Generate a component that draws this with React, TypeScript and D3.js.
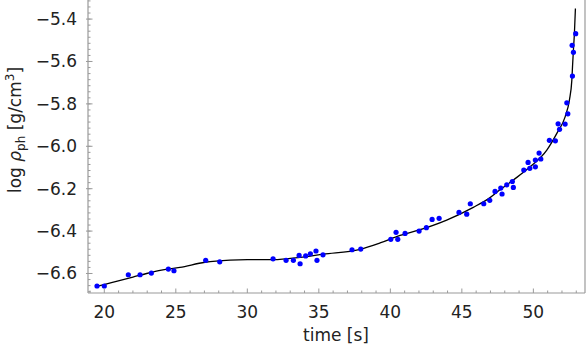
import React from "react";
import * as d3 from "d3";

// Observed points (time [s], log rho_ph)
const pointT = [19.49, 20.0, 21.68, 22.5, 23.29, 24.48, 24.87, 27.09, 28.07,
  31.8, 32.71, 33.22, 33.62, 33.69, 34.08, 34.41, 34.8, 34.87, 35.29, 37.32, 37.93,
  40.03, 40.4, 40.52, 41.03, 42.01, 42.52, 42.92, 43.41, 44.8, 45.34, 45.59, 46.53, 46.95,
  47.32, 47.72, 47.81, 48.14, 48.53, 48.6, 49.33, 49.63, 49.75, 50.14, 50.14, 50.4, 50.52,
  51.12, 51.54, 51.73, 51.83, 52.22, 52.34, 52.41, 52.73, 52.71, 52.8, 52.96];
const pointY = [-6.659, -6.659, -6.606, -6.606, -6.598, -6.579, -6.587, -6.538, -6.545,
  -6.531, -6.538, -6.538, -6.515, -6.554, -6.517, -6.507, -6.494, -6.538, -6.512, -6.488, -6.485,
  -6.439, -6.406, -6.439, -6.411, -6.4, -6.384, -6.345, -6.34, -6.312, -6.32, -6.271, -6.271, -6.255,
  -6.213, -6.197, -6.225, -6.182, -6.166, -6.194, -6.112, -6.076, -6.104, -6.065, -6.097, -6.032, -6.06,
  -5.972, -5.974, -5.894, -5.92, -5.895, -5.795, -5.847, -5.669, -5.524, -5.557, -5.469];

// Fitted curve
const curveT = [19.35, 20.5, 22.0, 22.96, 24.0, 25.29, 27.04, 28.79, 30.0, 31.82, 33.69, 35.31,
  37.88, 39.28, 40.68, 41.6, 43.94, 45.8, 46.97, 47.67, 48.6, 49.77, 50.94, 51.64, 52.22,
  52.52, 52.69, 52.74, 52.8, 52.87, 52.94];
const curveY = [-6.663, -6.643, -6.617, -6.6, -6.584, -6.571, -6.547, -6.537, -6.535, -6.535,
  -6.524, -6.509, -6.486, -6.456, -6.42, -6.403, -6.348, -6.288, -6.242, -6.205, -6.159, -6.097,
  -6.018, -5.939, -5.861, -5.782, -5.688, -5.62, -5.546, -5.467, -5.35];

const xTicks = [20, 25, 30, 35, 40, 45, 50];
const yTicks = [-6.6, -6.4, -6.2, -6.0, -5.8, -5.6, -5.4];

const W = 586, H = 349;
const left = 88, right = 585, top = 0, bottom = 293;

export default function App() {
  const x = d3.scaleLinear().domain([18.86, 53.61]).range([left, right]);
  const y = d3.scaleLinear().domain([-6.692, -5.31]).range([bottom, top]);
  const line = d3.line<number>()
    .x((_, i) => x(curveT[i]))
    .y((_, i) => y(curveY[i]))
    .curve(d3.curveMonotoneX);
  const xMinor = d3.range(19, 54, 1);
  const yMinor = d3.range(0, 50).map(i => -6.6 - 0.2 / 7 * 3 + i * 0.2 / 7).filter(v => v > -6.692 && v < -5.31);
  const font = "'DejaVu Sans', sans-serif";
  const axisColor = "#9a9a9a";
  const fmt = (v: number) => (v < 0 ? "\u2212" : "") + Math.abs(v).toFixed(1);
  return (
    <div style={{ position: "fixed", left: 0, top: 0 }}>
      <svg width={W} height={H} style={{ display: "block", background: "#fff" }}>
        <g clipPath="url(#clip)">
          <defs>
            <clipPath id="clip"><rect x={left} y={top} width={right - left} height={bottom - top} /></clipPath>
          </defs>
          <path d={line(curveT) || ""} fill="none" stroke="#000" strokeWidth={1.3} />
          {pointT.map((t, i) => (
            <circle key={i} cx={x(t)} cy={y(pointY[i])} r={2.6} fill="#0000ff" />
          ))}
        </g>
        {/* axes */}
        <line x1={left} x2={left} y1={top} y2={bottom} stroke={axisColor} strokeWidth={1.2} />
        <line x1={left} x2={right} y1={bottom} y2={bottom} stroke={axisColor} strokeWidth={1.2} />
        <line x1={right} x2={right} y1={top} y2={bottom} stroke={axisColor} strokeWidth={1.2} />
        {xMinor.map(v => (
          <line key={"xm" + v} x1={x(v)} x2={x(v)} y1={bottom} y2={bottom - (v % 5 === 0 ? 4.5 : 2.5)} stroke={axisColor} strokeWidth={1} />
        ))}
        {yMinor.map((v, i) => (
          <line key={"ym" + i} x1={left} x2={left + 2.5} y1={y(v)} y2={y(v)} stroke={axisColor} strokeWidth={1} />
        ))}
        {yTicks.map(v => (
          <line key={"yt" + v} x1={left - 2} x2={left + 4.5} y1={y(v)} y2={y(v)} stroke={axisColor} strokeWidth={1} />
        ))}
        {xTicks.map(v => (
          <text key={"xl" + v} x={x(v)} y={318} textAnchor="middle" fontFamily={font} fontSize={17} fill="#222">{v}</text>
        ))}
        {yTicks.map(v => (
          <text key={"yl" + v} x={77} y={y(v) + 6} textAnchor="end" fontFamily={font} fontSize={17} fill="#222">{fmt(v)}</text>
        ))}
        <text x={336} y={341} textAnchor="middle" fontFamily={font} fontSize={17} fill="#222">time [s]</text>
        <text transform="translate(21,130) rotate(-90)" textAnchor="middle" fontFamily={font} fontSize={17} fill="#222">
          log <tspan fontStyle="italic">ρ</tspan><tspan fontSize={12} dy={4}>ph</tspan><tspan dy={-4}> [g/cm</tspan><tspan fontSize={12} dy={-7}>3</tspan><tspan dy={7}>]</tspan>
        </text>
      </svg>
    </div>
  );
}
